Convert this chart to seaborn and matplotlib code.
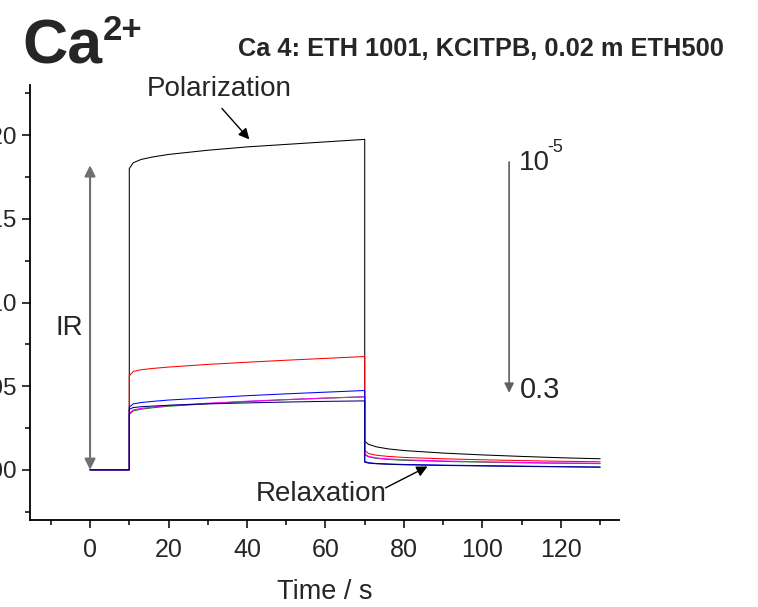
import numpy as np
import pandas as pd
import matplotlib
matplotlib.use("Agg")
import matplotlib.pyplot as plt
import seaborn as sns
from matplotlib.ticker import MultipleLocator, FormatStrFormatter

# ---- data ----
time = [0, 10, 10, 11, 13, 16, 20, 30, 40, 50, 60, 70, 70, 71, 73, 76, 80, 90, 100, 110, 120, 130]
black = [0, 0, 0.1800, 0.1835, 0.1855, 0.1870, 0.1885, 0.1910, 0.1930, 0.1945, 0.1960, 0.1975,
         0.0170, 0.0152, 0.0137, 0.0125, 0.0115, 0.0100, 0.0089, 0.0080, 0.0072, 0.0066]
red = [0, 0, 0.0561, 0.0588, 0.0598, 0.0606, 0.0614, 0.0630, 0.0643, 0.0655, 0.0666, 0.0677,
       0.0115, 0.0097, 0.0087, 0.0080, 0.0074, 0.0066, 0.0060, 0.0055, 0.0051, 0.0048]
green = [0, 0, 0.0330, 0.0352, 0.0362, 0.0371, 0.0380, 0.0395, 0.0408, 0.0419, 0.0428, 0.0437,
         0.0090, 0.0077, 0.0068, 0.0062, 0.0057, 0.0050, 0.0046, 0.0042, 0.0039, 0.0037]
magenta = [0, 0, 0.0338, 0.0358, 0.0367, 0.0375, 0.0384, 0.0398, 0.0410, 0.0420, 0.0429, 0.0436,
           0.0095, 0.0080, 0.0071, 0.0065, 0.0060, 0.0053, 0.0048, 0.0044, 0.0041, 0.0039]
blue = [0, 0, 0.0375, 0.0394, 0.0402, 0.0409, 0.0417, 0.0430, 0.0443, 0.0454, 0.0464, 0.0474,
        0.0050, 0.0042, 0.0038, 0.0035, 0.0032, 0.0028, 0.0025, 0.0022, 0.0019, 0.0016]
navy = [0, 0, 0.0362, 0.0372, 0.0377, 0.0381, 0.0386, 0.0394, 0.0400, 0.0405, 0.0409, 0.0412,
        0.0045, 0.0040, 0.0036, 0.0033, 0.0030, 0.0026, 0.0023, 0.0020, 0.0018, 0.0016]

series_names = ["black", "red", "green", "magenta", "blue", "navy"]
series_values = [black, red, green, magenta, blue, navy]
series_colors = ["#000000", "#ff0000", "#008000", "#ff00ff", "#0000ff", "#000080"]

x_ticks = [0, 20, 40, 60, 80, 100, 120]
y_ticks = [0.00, 0.05, 0.10, 0.15, 0.20]

# ---- style ----
sns.set_style("ticks")
plt.rcParams['font.family'] = ['Liberation Sans', 'DejaVu Sans']

fig = plt.figure(figsize=(7.58, 6.07), dpi=100)
ax = fig.add_axes([30 / 758, 87 / 607, 589 / 758, 435 / 607])

for name, vals, col in zip(series_names, series_values, series_colors):
    df = pd.DataFrame({"t": time, "v": vals})
    sns.lineplot(data=df, x="t", y="v", ax=ax, color=col, lw=0.75,
                 estimator=None, sort=False)

ax.set_xlim(-15.3, 134.8)
ax.set_ylim(-0.03, 0.23)
ax.set_xticks(x_ticks)
ax.set_yticks(y_ticks)
ax.xaxis.set_minor_locator(MultipleLocator(10))
ax.yaxis.set_minor_locator(MultipleLocator(0.025))
ax.yaxis.set_major_formatter(FormatStrFormatter('%.2f'))
ax.tick_params(axis='both', which='major', length=6, width=1.1,
               direction='out', color='black')
ax.tick_params(axis='x', which='major', labelsize=18, pad=7)
ax.tick_params(axis='y', which='major', labelsize=17.5, pad=3.5)
ax.tick_params(axis='both', which='minor', length=3.5, width=1.1, direction='out', color='black')
ax.set_xlabel("Time / s", fontsize=19.5, labelpad=12)
ax.set_ylabel("")
for s in ['top', 'right']:
    ax.spines[s].set_visible(False)
for s in ['left', 'bottom']:
    ax.spines[s].set_linewidth(1.3)
    ax.spines[s].set_color('black')

# ---- annotations ----
ann_fs = 20
ax.text(32.8, 0.2278, "Polarization", fontsize=ann_fs, ha='center', va='center')
ax.annotate("", xy=(40.6, 0.1975), xytext=(33.6, 0.216),
            arrowprops=dict(arrowstyle='-|>', color='black', lw=1.0, mutation_scale=16,
                            shrinkA=0, shrinkB=0))
ax.annotate("", xy=(0, 0.0), xytext=(0, 0.182),
            arrowprops=dict(arrowstyle='<|-|>', color='#707070', lw=1.5, mutation_scale=16,
                            shrinkA=0, shrinkB=0))
ax.text(-5.3, 0.085, "IR", fontsize=ann_fs, ha='center', va='center')
ax.annotate("", xy=(106.8, 0.046), xytext=(106.8, 0.184),
            arrowprops=dict(arrowstyle='-|>', color='#606060', lw=1.2, mutation_scale=14,
                            shrinkA=0, shrinkB=0))
ax.text(109.2, 0.1835, "10", fontsize=ann_fs, ha='left', va='center')
ax.text(116.6, 0.1925, "-5", fontsize=13, ha='left', va='center')
ax.text(109.5, 0.048, "0.3", fontsize=21, ha='left', va='center')
ax.text(59.0, -0.0143, "Relaxation", fontsize=ann_fs, ha='center', va='center')
ax.annotate("", xy=(86.0, 0.002), xytext=(75.3, -0.0108),
            arrowprops=dict(arrowstyle='-|>', color='black', lw=1.0, mutation_scale=16,
                            shrinkA=0, shrinkB=0))

# ---- titles ----
t_ca = fig.text(22 / 758, 1 - 63 / 607, "Ca", fontsize=45, fontweight='bold',
                ha='left', va='baseline')
renderer = fig.canvas.get_renderer()
bb = t_ca.get_window_extent(renderer=renderer)
fig.text((bb.x1 + 1) / 758, 1 - 40 / 607, "2+", fontsize=25, fontweight='bold',
         ha='left', va='baseline')
fig.text(238 / 758, 1 - 56 / 607, "Ca 4: ETH 1001, KCITPB, 0.02 m ETH500", fontsize=18.3,
         fontweight='bold', ha='left', va='baseline')

fig.savefig("out.png", dpi=100)
